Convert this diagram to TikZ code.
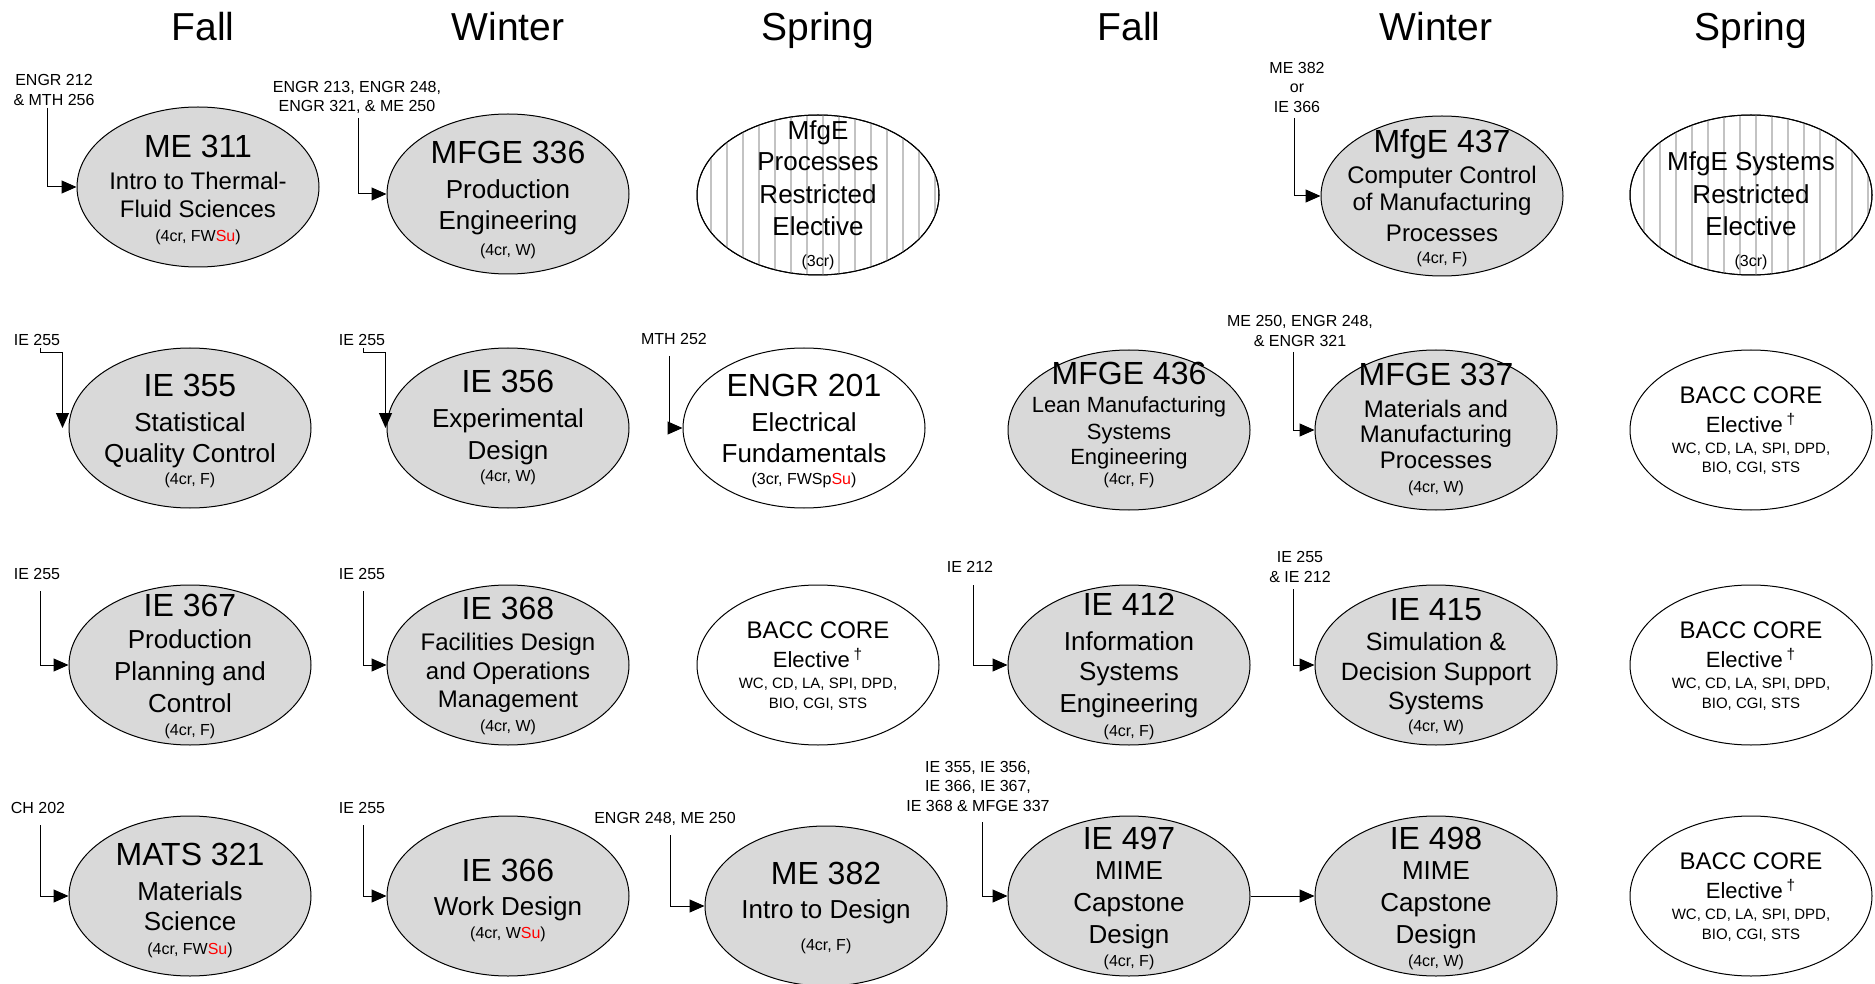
\documentclass[tikz,border=0pt]{standalone}
\usepackage{fontspec}
\setmainfont{Liberation Sans}
\usetikzlibrary{shapes.geometric,arrows.meta,calc}
\definecolor{cgray}{RGB}{217,217,217}
\definecolor{hatchc}{RGB}{195,195,195}
\definecolor{sured}{RGB}{255,0,0}
\newcommand\su{\textcolor{sured}{Su}}
\newcommand\txtline[5]{\node[tline,font=\fontsize{#3}{#3}\selectfont] (#1#2) at ($(#1.center)+(0,#4)$) {#5};}
\newcommand\bacc[1]{%
 \txtline{#1}{a}{12}{-27}{BACC CORE}
 \txtline{#1}{b}{11}{2}{Elective\,\textsuperscript{\textdagger}}
 \txtline{#1}{c}{7.5}{23}{WC, CD, LA, SPI, DPD,}
 \txtline{#1}{d}{7.5}{43}{BIO, CGI, STS}}
\newcommand\hatchell[1]{%
 \begin{scope}
 \clip (#1.center) ellipse [x radius=121, y radius=80];
 \foreach \k in {-8,...,7} \draw[hatchc, line width=0.6pt] ($(#1.center)+(\k*16+5,-85)$) -- ++(0,170);
 \end{scope}
 \draw[line width=0.5pt] (#1.center) ellipse [x radius=121, y radius=80];}
\tikzset{
 ell/.style={ellipse, draw=black, line width=0.5pt, minimum width=121pt, minimum height=80pt, inner sep=0pt},
 gry/.style={ell, fill=cgray},
 wht/.style={ell, fill=white},
 tline/.style={anchor=base, inner sep=0pt},
 hdr/.style={anchor=base, inner sep=0pt, font=\fontsize{19.5}{19.5}\selectfont},
 pre/.style={anchor=south, inner sep=0pt, align=center, font=\fontsize{8}{9.75}\selectfont},
 arr/.style={draw=black, line width=0.5pt, -{Triangle[length=7.5pt,width=6.5pt]}},
}
\begin{document}
\begin{tikzpicture}[x=0.5pt,y=-0.5pt]
\useasboundingbox (0,0) rectangle (1875,984);
% headers
\node[hdr] (hF1) at (203,41) {Fall};
\node[hdr] (hW1) at (508,41) {Winter};
\node[hdr] (hS1) at (818,41) {Spring};
\node[hdr] (hF2) at (1129,41) {Fall};
\node[hdr] (hW2) at (1436,41) {Winter};
\node[hdr] (hS2) at (1751,41) {Spring};

% ---------- row 1
\node[gry] (me311) at (198,187) {};
\txtline{me311}{a}{16}{-29}{ME 311}
\txtline{me311}{b}{12}{3}{Intro to Thermal-}
\txtline{me311}{c}{12}{31}{Fluid Sciences}
\txtline{me311}{d}{8}{55}{(4cr, FW\su)}

\node[gry] (mfge336) at (508,194) {};
\txtline{mfge336}{a}{16}{-30}{MFGE 336}
\txtline{mfge336}{b}{13}{5}{Production}
\txtline{mfge336}{c}{13}{36}{Engineering}
\txtline{mfge336}{d}{8}{62}{(4cr, W)}

\node[wht] (mproc) at (818,195) {};
\hatchell{mproc}
\txtline{mproc}{a}{13}{-55}{MfgE}
\txtline{mproc}{b}{13}{-24}{Processes}
\txtline{mproc}{c}{13}{9}{Restricted}
\txtline{mproc}{d}{13}{41}{Elective}
\txtline{mproc}{e}{8}{72}{(3cr)}

\node[gry] (mfge437) at (1442,196) {};
\txtline{mfge437}{a}{16}{-43}{MfgE 437}
\txtline{mfge437}{b}{12}{-12}{Computer Control}
\txtline{mfge437}{c}{12}{15}{of Manufacturing}
\txtline{mfge437}{d}{12}{46}{Processes}
\txtline{mfge437}{e}{8}{68}{(4cr, F)}

\node[wht] (msys) at (1751,195) {};
\hatchell{msys}
\txtline{msys}{a}{13}{-24}{MfgE Systems}
\txtline{msys}{b}{13}{9}{Restricted}
\txtline{msys}{c}{13}{41}{Elective}
\txtline{msys}{d}{8}{72}{(3cr)}

% ---------- row 2
\node[gry] (ie355) at (190,428) {};
\txtline{ie355}{a}{16}{-32}{IE 355}
\txtline{ie355}{b}{13}{3}{Statistical}
\txtline{ie355}{c}{13}{34}{Quality Control}
\txtline{ie355}{d}{8}{56}{(4cr, F)}

\node[gry] (ie356) at (508,428) {};
\txtline{ie356}{a}{16}{-35}{IE 356}
\txtline{ie356}{b}{13}{0}{Experimental}
\txtline{ie356}{c}{13}{31}{Design}
\txtline{ie356}{d}{8}{53}{(4cr, W)}

\node[wht] (engr201) at (804,428) {};
\txtline{engr201}{a}{16}{-32}{ENGR 201}
\txtline{engr201}{b}{13}{3}{Electrical}
\txtline{engr201}{c}{13}{34}{Fundamentals}
\txtline{engr201}{d}{8}{56}{(3cr, FWSp\su)}

\node[gry] (mfge436) at (1129,430) {};
\txtline{mfge436}{a}{16}{-45}{MFGE 436}
\txtline{mfge436}{b}{11}{-18}{Lean Manufacturing}
\txtline{mfge436}{c}{11}{9}{Systems}
\txtline{mfge436}{d}{11}{34}{Engineering}
\txtline{mfge436}{e}{8}{54}{(4cr, F)}

\node[gry] (mfge337) at (1436,430) {};
\txtline{mfge337}{a}{16}{-44}{MFGE 337}
\txtline{mfge337}{b}{12}{-13}{Materials and}
\txtline{mfge337}{c}{12}{12}{Manufacturing}
\txtline{mfge337}{d}{12}{38}{Processes}
\txtline{mfge337}{e}{8}{62}{(4cr, W)}

\node[wht] (bacc2) at (1751,430) {};
\bacc{bacc2}

% ---------- row 3
\node[gry] (ie367) at (190,665) {};
\txtline{ie367}{a}{16}{-49}{IE 367}
\txtline{ie367}{b}{13}{-17}{Production}
\txtline{ie367}{c}{13}{15}{Planning and}
\txtline{ie367}{d}{13}{47}{Control}
\txtline{ie367}{e}{8}{70}{(4cr, F)}

\node[gry] (ie368) at (508,665) {};
\txtline{ie368}{a}{16}{-46}{IE 368}
\txtline{ie368}{b}{12}{-15}{Facilities Design}
\txtline{ie368}{c}{12}{14}{and Operations}
\txtline{ie368}{d}{12}{42}{Management}
\txtline{ie368}{e}{8}{66}{(4cr, W)}

\node[wht] (bacc3a) at (818,665) {};
\bacc{bacc3a}

\node[gry] (ie412) at (1129,665) {};
\txtline{ie412}{a}{16}{-50}{IE 412}
\txtline{ie412}{b}{13}{-15}{Information}
\txtline{ie412}{c}{13}{15}{Systems}
\txtline{ie412}{d}{13}{47}{Engineering}
\txtline{ie412}{e}{8}{71}{(4cr, F)}

\node[gry] (ie415) at (1436,665) {};
\txtline{ie415}{a}{16}{-45}{IE 415}
\txtline{ie415}{b}{12.5}{-15}{Simulation \&}
\txtline{ie415}{c}{12.5}{15}{Decision Support}
\txtline{ie415}{d}{12.5}{44}{Systems}
\txtline{ie415}{e}{8}{66}{(4cr, W)}

\node[wht] (bacc3b) at (1751,665) {};
\bacc{bacc3b}

% ---------- row 4
\node[gry] (mats321) at (190,896) {};
\txtline{mats321}{a}{16}{-31}{MATS 321}
\txtline{mats321}{b}{13}{4}{Materials}
\txtline{mats321}{c}{13}{34}{Science}
\txtline{mats321}{d}{8}{58}{(4cr, FW\su)}

\node[gry] (ie366) at (508,896) {};
\txtline{ie366}{a}{16}{-15}{IE 366}
\txtline{ie366}{b}{13}{19}{Work Design}
\txtline{ie366}{c}{8}{42}{(4cr, W\su)}

\node[gry] (me382) at (826,906) {};
\txtline{me382}{a}{16}{-22}{ME 382}
\txtline{me382}{b}{13}{12}{Intro to Design}
\txtline{me382}{c}{8}{44}{(4cr, F)}

\node[gry] (ie497) at (1129,896) {};
\txtline{ie497}{a}{16}{-47}{IE 497}
\txtline{ie497}{b}{13}{-17}{MIME}
\txtline{ie497}{c}{13}{15}{Capstone}
\txtline{ie497}{d}{13}{47}{Design}
\txtline{ie497}{e}{8}{70}{(4cr, F)}

\node[gry] (ie498) at (1436,896) {};
\txtline{ie498}{a}{16}{-47}{IE 498}
\txtline{ie498}{b}{13}{-17}{MIME}
\txtline{ie498}{c}{13}{15}{Capstone}
\txtline{ie498}{d}{13}{47}{Design}
\txtline{ie498}{e}{8}{70}{(4cr, W)}

\node[wht] (bacc4) at (1751,896) {};
\bacc{bacc4}

% ---------- prerequisite labels
\node[pre] (p1) at (54,106) {ENGR 212\\\& MTH 256};
\node[pre] (p2) at (357,114) {ENGR 213, ENGR 248,\\ENGR 321, \& ME 250};
\node[pre] (p3) at (1297,113) {ME 382\\or\\IE 366};
\node[pre] (p4) at (37,346) {IE 255};
\node[pre] (p5) at (362,346) {IE 255};
\node[pre] (p6) at (674,345) {MTH 252};
\node[pre] (p7) at (1300,347) {ME 250, ENGR 248,\\\& ENGR 321};
\node[pre] (p8) at (37,580) {IE 255};
\node[pre] (p9) at (362,580) {IE 255};
\node[pre] (p10) at (970,573) {IE 212};
\node[pre] (p11) at (1300,583) {IE 255\\\& IE 212};
\node[pre] (p12) at (38,814) {CH 202};
\node[pre] (p13) at (362,814) {IE 255};
\node[pre] (p14) at (665,826) {ENGR 248, ME 250};
\node[pre] (p15) at (978,812) {IE 355, IE 356,\\IE 366, IE 367,\\IE 368 \& MFGE 337};

% ---------- connectors
\draw[arr] ($(p1.south)+(-7,2)$) |- (me311.west);
\draw[arr] ($(p2.south)+(1,4)$) |- (mfge336.west);
\draw[arr] ($(p3.south)+(-3,5)$) |- (mfge437.west);
\draw[arr] ($(p4.south)+(3,2)$) |- ($(ie355.west)+(-6,-75)$) -- ($(ie355.west)+(-6,0)$);
\draw[arr] ($(p5.south)+(1,2)$) |- ($(ie356.west)+(-1,-75)$) -- ($(ie356.west)+(-1,0)$);
\draw[arr] ($(p6.south)+(-5,11)$) |- (engr201.west);
\draw[arr] ($(p7.south)+(-7,5)$) |- (mfge337.west);
\draw[arr] ($(p8.south)+(3,11)$) |- (ie367.west);
\draw[arr] ($(p9.south)+(1,11)$) |- (ie368.west);
\draw[arr] ($(p10.south)+(3,12)$) |- (ie412.west);
\draw[arr] ($(p11.south)+(-7,6)$) |- (ie415.west);
\draw[arr] ($(p12.south)+(2,11)$) |- (mats321.west);
\draw[arr] ($(p13.south)+(1,11)$) |- (ie366.west);
\draw[arr] ($(p14.south)+(5,9)$) |- (me382.west);
\draw[arr] ($(p15.south)+(4,10)$) |- (ie497.west);
\draw[arr] (ie497.east) -- (ie498.west);
\end{tikzpicture}
\end{document}
